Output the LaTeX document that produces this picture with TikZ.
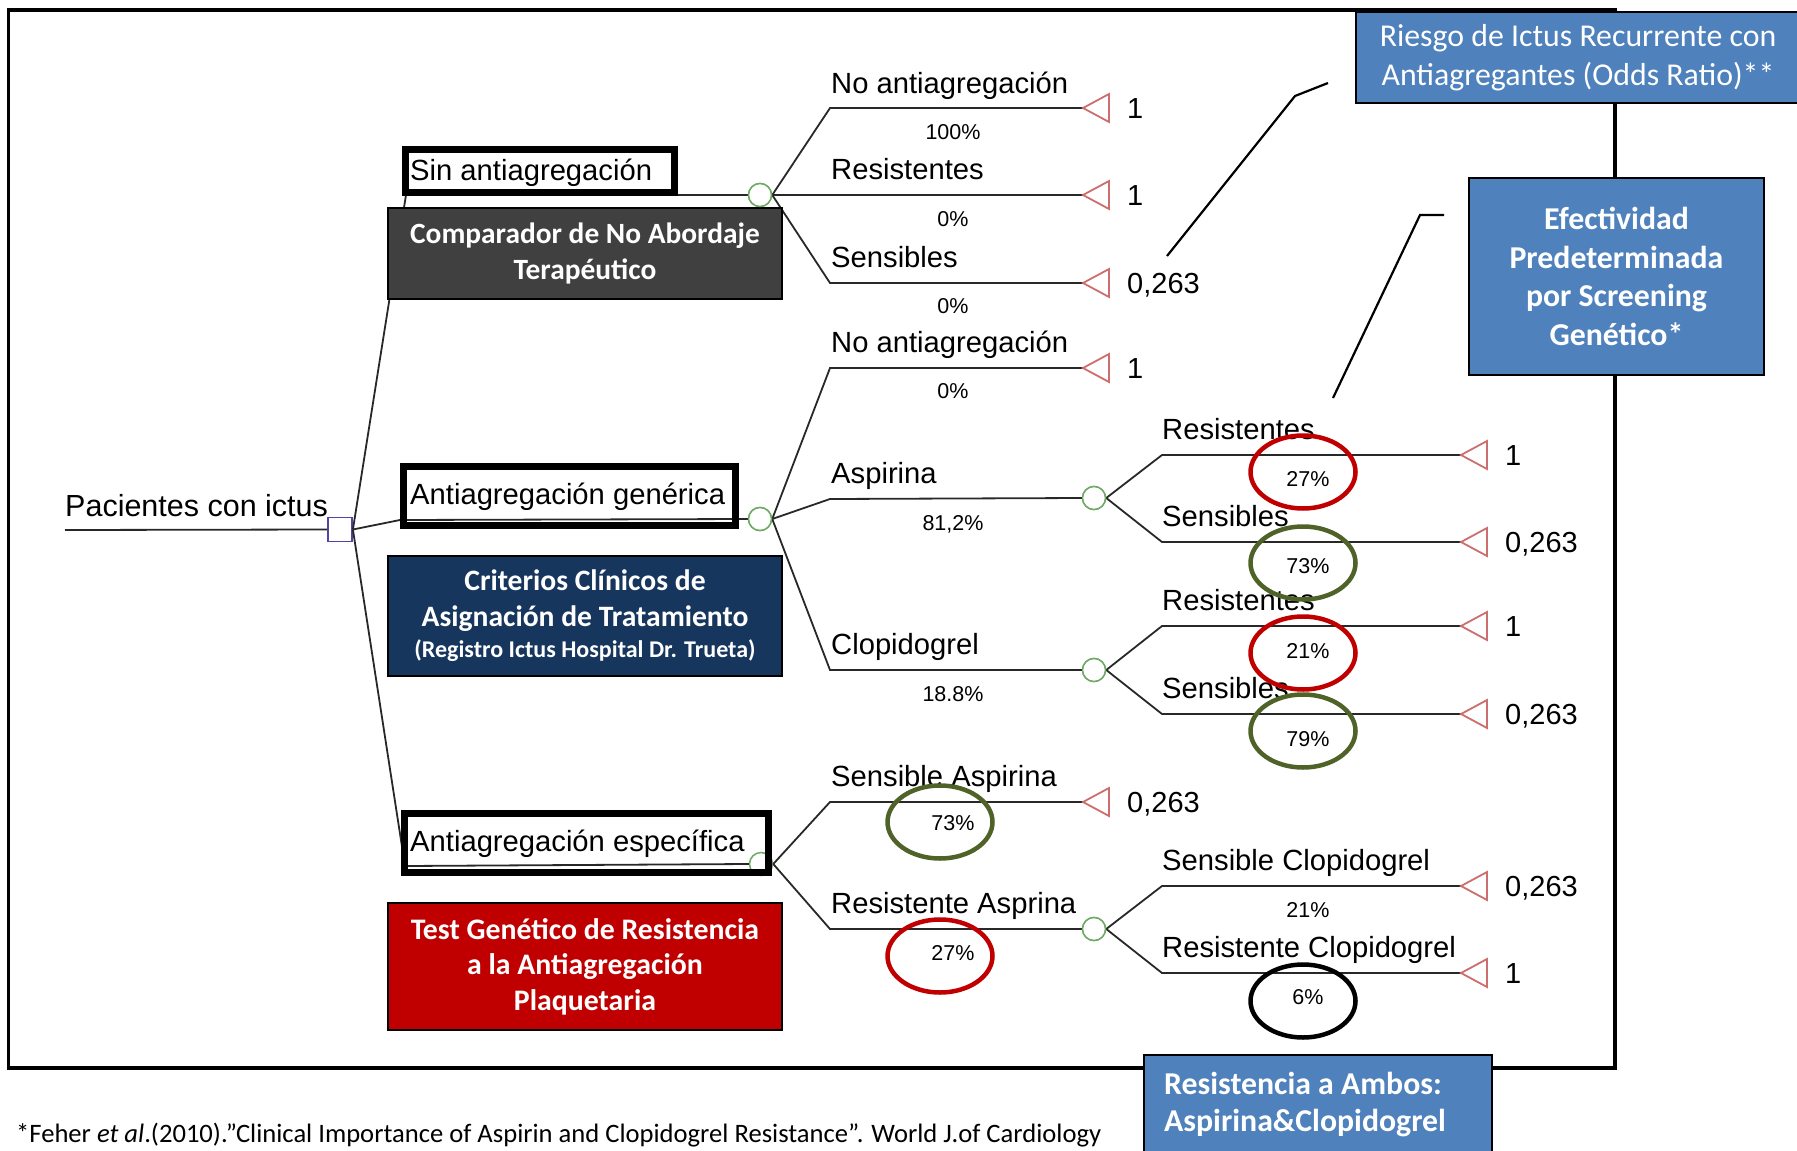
\documentclass[tikz,border=0pt]{standalone}
\usepackage{fontspec}
\setmainfont{Carlito}
\newfontfamily\treefont{Liberation Sans}
\usetikzlibrary{shapes.geometric}

\definecolor{medblue}{RGB}{79,129,189}
\definecolor{graybox}{RGB}{64,64,64}
\definecolor{navybox}{RGB}{23,54,93}
\definecolor{redbox}{RGB}{192,0,0}
\definecolor{ringred}{RGB}{192,0,0}
\definecolor{ringgreen}{RGB}{79,98,40}
\definecolor{chancegreen}{RGB}{110,170,100}
\definecolor{termred}{RGB}{205,110,110}
\definecolor{decblue}{RGB}{80,70,160}
\definecolor{treeline}{RGB}{40,40,40}

\begin{document}
\begin{tikzpicture}[x=1pt,y=-1pt,
  tree/.style={draw=treeline, line width=1.8pt},
  tlab/.style={font=\treefont\fontsize{29.2}{34}\selectfont, inner sep=0pt, anchor=base west},
  pct/.style={font=\treefont\fontsize{21.5}{25}\selectfont, inner sep=0pt, anchor=base},
  val/.style={font=\treefont\fontsize{29}{34}\selectfont, inner sep=0pt, anchor=base west},
  chance/.style={circle, draw=chancegreen, fill=white, line width=1.5pt, minimum size=23pt, inner sep=0pt},
  dec/.style={rectangle, draw=decblue, fill=white, line width=1.8pt, minimum size=24pt, inner sep=0pt},
  termtri/.style={draw=termred, line width=1.8pt, fill=white, line join=miter},
  ring/.style={ellipse, line width=4.5pt, minimum width=105pt, minimum height=73pt, inner sep=0pt},
  lframe/.style={rectangle, draw=black, line width=7pt, inner sep=0pt},
  cbox/.style={rectangle, draw=black, line width=1.5pt, text=white, align=center, inner sep=0pt},
  callout/.style={draw=black, line width=2.2pt}
]
\useasboundingbox (0,0) rectangle (1797,1151);

% outer frame
\draw[line width=3.5pt] (8.5,10) rectangle (1615,1068);

% ---------- tree nodes ----------
\node[dec] (root) at (340,529.5) {};
\coordinate (r0) at (65,530);
\coordinate (b1) at (406,195);
\coordinate (b2) at (400,520);
\coordinate (b3) at (405,866);
\node[chance] (c1) at (760,195) {};
\node[chance] (c2) at (760,519) {};
\node[chance] (c3) at (761,864) {};
\node[chance] (ca) at (1094,498) {};
\node[chance] (cc) at (1094,670) {};
\node[chance] (cr) at (1094,929) {};

% level-2 starts
\coordinate (s11) at (830,108);
\coordinate (s12) at (830,195);
\coordinate (s13) at (830,283);
\coordinate (s21) at (830,368);
\coordinate (s22) at (830,499);
\coordinate (s23) at (830,670);
\coordinate (s31) at (830,802);
\coordinate (s32) at (830,929);
% level-3 starts
\coordinate (sa1) at (1162,455);
\coordinate (sa2) at (1162,542);
\coordinate (sc1) at (1162,626);
\coordinate (sc2) at (1162,714);
\coordinate (sr1) at (1162,886);
\coordinate (sr2) at (1162,973);
% terminal tips
\coordinate (t11) at (1083,108);
\coordinate (t12) at (1083,195);
\coordinate (t13) at (1083,283);
\coordinate (t21) at (1083,368);
\coordinate (t31) at (1083,802);
\coordinate (ta1) at (1461,455);
\coordinate (ta2) at (1461,542);
\coordinate (tc1) at (1461,626);
\coordinate (tc2) at (1461,714);
\coordinate (tr1) at (1461,886);
\coordinate (tr2) at (1461,973);

% ---------- tree lines ----------
\draw[tree] (r0) -- (root.west);
\draw[tree] (root.east) -- (b1) -- (c1.west);
\draw[tree] (root.east) -- (b2) -- (c2.west);
\draw[tree] (root.east) -- (b3) -- (c3.west);

\draw[tree] (c1.east) -- (s11) -- (t11);
\draw[tree] (c1.east) -- (s12) -- (t12);
\draw[tree] (c1.east) -- (s13) -- (t13);
\draw[tree] (c2.east) -- (s21) -- (t21);
\draw[tree] (c2.east) -- (s22) -- (ca.west);
\draw[tree] (c2.east) -- (s23) -- (cc.west);
\draw[tree] (c3.east) -- (s31) -- (t31);
\draw[tree] (c3.east) -- (s32) -- (cr.west);
\draw[tree] (ca.east) -- (sa1) -- (ta1);
\draw[tree] (ca.east) -- (sa2) -- (ta2);
\draw[tree] (cc.east) -- (sc1) -- (tc1);
\draw[tree] (cc.east) -- (sc2) -- (tc2);
\draw[tree] (cr.east) -- (sr1) -- (tr1);
\draw[tree] (cr.east) -- (sr2) -- (tr2);

% terminal triangles
\foreach \t in {t11,t12,t13,t21,t31,ta1,ta2,tc1,tc2,tr1,tr2}
  \draw[termtri] (\t) -- ++(26,-14) -- ++(0,28) -- cycle;

% ---------- coloured boxes on the left ----------
\node[cbox, fill=graybox, minimum width=394pt, minimum height=91pt,
      font=\bfseries\fontsize{29.4}{35.5}\selectfont] (comp) at (585,253.5)
      {Comparador de No Abordaje\\Terapéutico};
\node[cbox, fill=navybox, minimum width=394pt, minimum height=120pt,
      font=\bfseries\fontsize{29.6}{35.5}\selectfont] (crit) at (585,616)
      {Criterios Clínicos de\\Asignación de Tratamiento\\[-4pt]{\fontsize{24}{27}\selectfont (Registro Ictus Hospital Dr. Trueta)}};
\node[cbox, fill=redbox, minimum width=394pt, minimum height=127pt,
      font=\bfseries\fontsize{29.8}{35.5}\selectfont] (test) at (585,966.5)
      {Test Genético de Resistencia\\a la Antiagregación\\Plaquetaria};

% label frames
\node[lframe, minimum width=269pt, minimum height=43pt] (f1) at (540,171) {};
\node[lframe, minimum width=332pt, minimum height=59pt] (f2) at (569.5,496) {};
\node[lframe, minimum width=364pt, minimum height=59pt] (f3) at (586.5,843) {};

% redraw chance nodes on top
\node[chance] at (c1) {};
\node[chance] at (c2) {};
\node[chance] at (ca) {};
\node[chance] at (cc) {};
\node[chance] at (cr) {};

% ---------- tree texts ----------
\node[tlab, font=\treefont\fontsize{30.5}{34}\selectfont] (lroot) at (65,516) {Pacientes con ictus};
\node[tlab] (l1) at (410,180) {Sin antiagregación};
\node[tlab] (l2) at (410,504) {Antiagregación genérica};
\node[tlab] (l3) at (410,851) {Antiagregación específica};

\node[tlab] (l11) at (831,93) {No antiagregación};
\node[tlab] (l12) at (831,179) {Resistentes};
\node[tlab] (l13) at (831,267) {Sensibles};
\node[tlab] (l21) at (831,352) {No antiagregación};
\node[tlab] (l22) at (831,483) {Aspirina};
\node[tlab] (l23) at (831,654) {Clopidogrel};
\node[tlab] (l31) at (831,786) {Sensible Aspirina};
\node[tlab] (l32) at (831,913) {Resistente Asprina};
\node[tlab] (la1) at (1162,439) {Resistentes};
\node[tlab] (la2) at (1162,526) {Sensibles};
\node[tlab] (lc1) at (1162,610) {Resistentes};
\node[tlab] (lc2) at (1162,698) {Sensibles};
\node[tlab] (lr1) at (1162,870) {Sensible Clopidogrel};
\node[tlab] (lr2) at (1162,957) {Resistente Clopidogrel};

\node[pct] (p11) at (953,139) {100\%};
\node[pct] (p12) at (953,226) {0\%};
\node[pct] (p13) at (953,313) {0\%};
\node[pct] (p21) at (953,398) {0\%};
\node[pct] (p22) at (953,530) {81,2\%};
\node[pct] (p23) at (953,701) {18.8\%};
\node[pct] (p31) at (953,830) {73\%};
\node[pct] (p32) at (953,960) {27\%};
\node[pct] (pa1) at (1308,486) {27\%};
\node[pct] (pa2) at (1308,573) {73\%};
\node[pct] (pc1) at (1308,658) {21\%};
\node[pct] (pc2) at (1308,746) {79\%};
\node[pct] (pr1) at (1308,917) {21\%};
\node[pct] (pr2) at (1308,1004) {6\%};

\node[val] (v11) at (1127,118) {1};
\node[val] (v12) at (1127,205) {1};
\node[val] (v13) at (1127,293) {0,263};
\node[val] (v21) at (1127,378) {1};
\node[val] (v31) at (1127,812) {0,263};
\node[val] (va1) at (1505,465) {1};
\node[val] (va2) at (1505,552) {0,263};
\node[val] (vc1) at (1505,636) {1};
\node[val] (vc2) at (1505,724) {0,263};
\node[val] (vr1) at (1505,896) {0,263};
\node[val] (vr2) at (1505,983) {1};

% ---------- rings ----------
\node[ring, draw=ringred] (ka1) at (1303,472) {};
\node[ring, draw=ringgreen] (ka2) at (1303,563) {};
\node[ring, draw=ringred] (kc1) at (1303,653) {};
\node[ring, draw=ringgreen] (kc2) at (1303,731) {};
\node[ring, draw=ringgreen] (k31) at (940,822) {};
\node[ring, draw=ringred] (k32) at (940,956) {};
\node[ring, draw=black] (kr2) at (1303,1001) {};

% ---------- callout boxes ----------
\node[cbox, fill=medblue, minimum width=444pt, minimum height=91pt,
      font=\fontsize{31.8}{38.5}\selectfont] (riesgo) at (1578,57.5)
      {Riesgo de Ictus Recurrente con\\Antiagregantes (Odds Ratio)**};
\node[cbox, fill=medblue, minimum width=295pt, minimum height=197pt,
      font=\bfseries\fontsize{31.8}{38.5}\selectfont] (efect) at (1616.5,276.5)
      {Efectividad\\Predeterminada\\por Screening\\Genético*};
\node[cbox, fill=medblue, minimum width=348pt, minimum height=110pt] (ambos) at (1318,1110) {};
\node[text=white, align=left, anchor=west, inner sep=0pt,
      font=\bfseries\fontsize{31.8}{37}\selectfont] (ambostxt) at (1164,1104.5)
      {Resistencia a Ambos:\\Aspirina\&Clopidogrel};

% callout lines
\coordinate (k1a) at (1328,83);
\coordinate (k1b) at (1295,96);
\coordinate (k1c) at (1167,256);
\coordinate (k2a) at (1444,215);
\coordinate (k2b) at (1420,215);
\coordinate (k2c) at (1333,398);
\draw[callout] (k1a) -- (k1b) -- (k1c);
\draw[callout] (k2a) -- (k2b) -- (k2c);

% footnote
\node[anchor=base west, inner sep=0pt, font=\fontsize{26.6}{30}\selectfont] (foot) at (16,1142)
  {*Feher \textit{et al}.(2010).”Clinical Importance of Aspirin and Clopidogrel Resistance”. World J.of Cardiology};
\end{tikzpicture}
\end{document}
